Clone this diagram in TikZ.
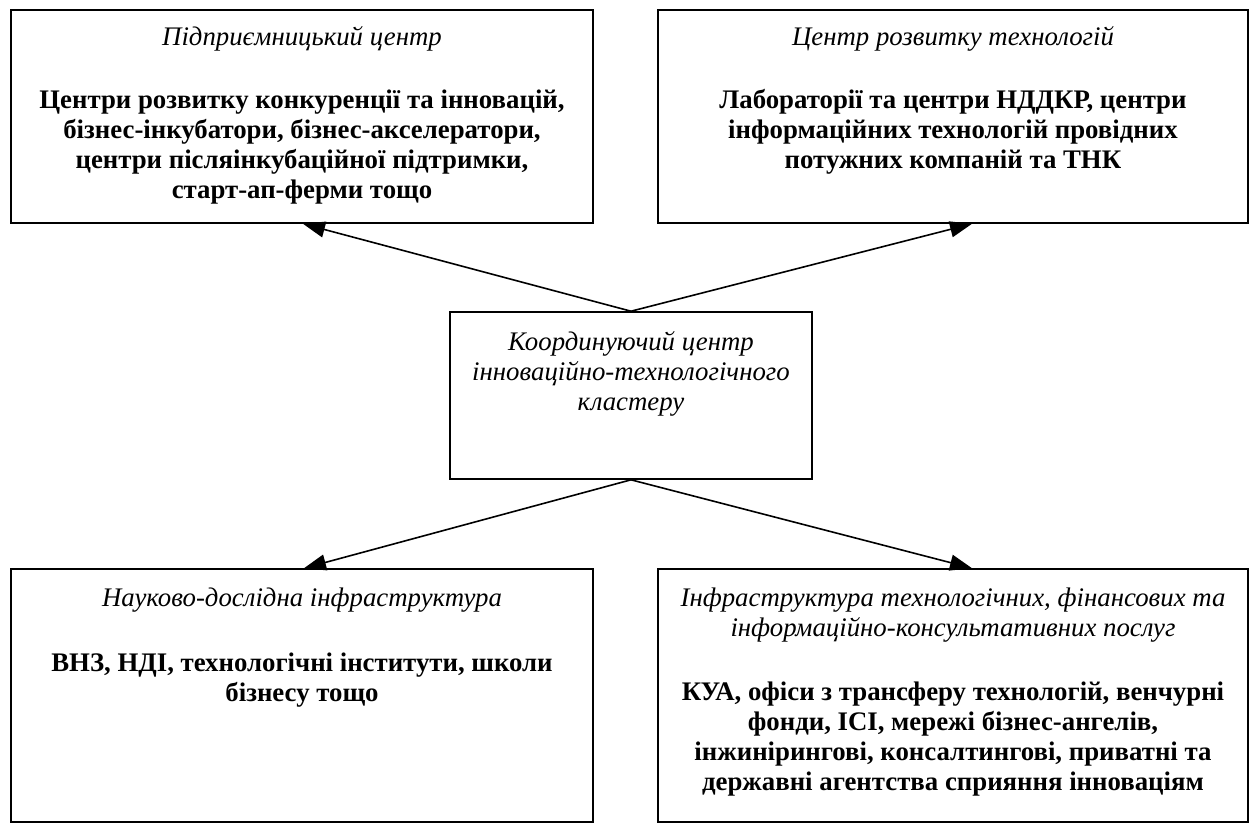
\documentclass[tikz,border=0pt]{standalone}
\usepackage{fontspec}
\setmainfont{Liberation Serif}
\usetikzlibrary{arrows.meta,calc}
\tikzset{
  box/.style={draw, line width=1.6pt, inner sep=0pt},
  txt/.style={align=center, inner sep=0pt, font=\fontsize{26.8pt}{30pt}\selectfont},
  conn/.style={line width=1.6pt, -{Triangle[length=22pt,width=16pt]}}
}
\begin{document}
\begin{tikzpicture}[x=1pt,y=-1pt]
\useasboundingbox (0,0) rectangle (1258,823);
% boxes
\node[box, minimum width=582pt, minimum height=213pt] (tl) at (302,116.5) {};
\node[box, minimum width=590pt, minimum height=213pt] (tr) at (953,116.5) {};
\node[box, minimum width=362pt, minimum height=167pt] (cc) at (631,395.5) {};
\node[box, minimum width=582pt, minimum height=253pt] (bl) at (302,695.5) {};
\node[box, minimum width=590pt, minimum height=253pt] (br) at (953,695.5) {};
% texts
\node[txt] (tlt) at (302,39) {\itshape Підприємницький центр};
\node[txt] (tlb) at (302,147) {\bfseries Центри розвитку конкуренції та інновацій,\\ \bfseries бізнес-інкубатори, бізнес-акселератори,\\ \bfseries центри післяінкубаційної підтримки,\\ \bfseries старт-ап-ферми тощо};
\node[txt] (trt) at (953,39) {\itshape Центр розвитку технологій};
\node[txt] (trb) at (953,132) {\bfseries Лабораторії та центри НДДКР, центри\\ \bfseries інформаційних технологій провідних\\ \bfseries потужних компаній та ТНК};
\node[txt] (cct) at (631,374) {\itshape Координуючий центр\\ \itshape інноваційно-технологічного\\ \itshape кластеру};
\node[txt] (blt) at (302,600) {\itshape Науково-дослідна інфраструктура};
\node[txt] (blb) at (302,680) {\bfseries ВНЗ, НДІ, технологічні інститути, школи\\ \bfseries бізнесу тощо};
\node[txt] (brt) at (953,615) {\itshape Інфраструктура технологічних, фінансових та\\ \itshape інформаційно-консультативних послуг};
\node[txt] (brb) at (953,739) {\bfseries КУА, офіси з трансферу технологій, венчурні\\ \bfseries фонди, ІСІ, мережі бізнес-ангелів,\\ \bfseries інжинірингові, консалтингові, приватні та\\ \bfseries державні агентства сприяння інноваціям};
% connectors
\draw[conn] (cc.north) -- ($(tl.south)+(1,0)$);
\draw[conn] (cc.north) -- ($(tr.south)+(19,0)$);
\draw[conn] (cc.south) -- ($(bl.north)+(2,0)$);
\draw[conn] (cc.south) -- ($(br.north)+(19,0)$);
\end{tikzpicture}
\end{document}
